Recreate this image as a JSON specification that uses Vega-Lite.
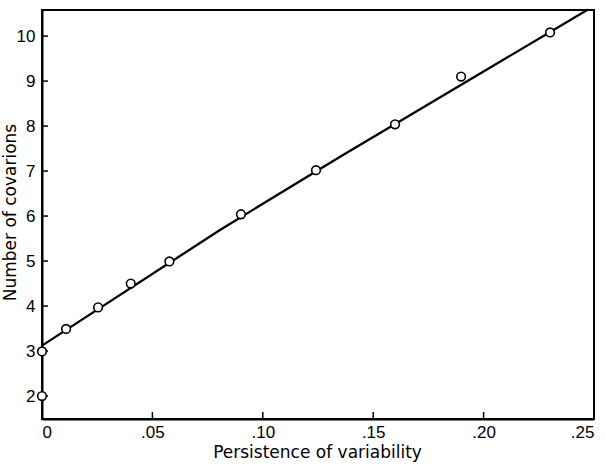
{
  "$schema": "https://vega.github.io/schema/vega-lite/v6.json",
  "width": 552,
  "height": 409,
  "autosize": "none",
  "padding": {"left": 42, "top": 10, "right": 11, "bottom": 49},
  "background": "white",
  "config": {
    "view": {"stroke": "black", "strokeWidth": 2},
    "font": "DejaVu Sans",
    "axis": {
      "grid": false,
      "ticks": false,
      "tickSize": 0,
      "domainColor": "black",
      "domainWidth": 2,
      "labelColor": "black",
      "labelFont": "Liberation Sans",
      "labelFontSize": 17,
      "titleFont": "DejaVu Sans",
      "titleFontSize": 17,
      "titleFontWeight": "normal",
      "titleColor": "black"
    }
  },
  "datasets": {
    "pts": [
      {"x": 0, "y": 2},
      {"x": 0, "y": 2.99},
      {"x": 0.0109, "y": 3.49},
      {"x": 0.0254, "y": 3.97},
      {"x": 0.0402, "y": 4.5},
      {"x": 0.0577, "y": 4.99},
      {"x": 0.0901, "y": 6.04},
      {"x": 0.1241, "y": 7.02},
      {"x": 0.1599, "y": 8.04},
      {"x": 0.1898, "y": 9.1},
      {"x": 0.2301, "y": 10.08}
    ],
    "fit": [
      {"x": 0, "y": 3.12},
      {"x": 0.0806, "y": 5.69},
      {"x": 0.135, "y": 7.32},
      {"x": 0.2074, "y": 9.43},
      {"x": 0.2473, "y": 10.59}
    ],
    "xticks": [{"x": 0.05}, {"x": 0.1}, {"x": 0.15}, {"x": 0.2}],
    "yticks": [{"y": 2}, {"y": 3}, {"y": 4}, {"y": 5}, {"y": 6}, {"y": 7}, {"y": 8}, {"y": 9}, {"y": 10}]
  },
  "encoding": {
    "x": {
      "type": "quantitative",
      "scale": {"domain": [0, 0.25], "nice": false, "zero": false},
      "axis": {
        "title": "Persistence of variability",
        "values": [0, 0.05, 0.1, 0.15, 0.2, 0.25],
        "labelExpr": "datum.value == 0 ? '0' : replace(format(datum.value, '.2f'), '0.', '.')",
        "labelBaseline": "alphabetic",
        "labelPadding": 18,
        "titleBaseline": "alphabetic",
        "titleAlign": "center",
        "titleX": 275,
        "titleY": 38
      }
    },
    "y": {
      "type": "quantitative",
      "scale": {"domain": [1.489, 10.58], "nice": false, "zero": false},
      "axis": {
        "title": "Number of covarions",
        "values": [2, 3, 4, 5, 6, 7, 8, 9, 10],
        "labelPadding": 7,
        "titleAngle": -90,
        "titleBaseline": "alphabetic",
        "titleAlign": "center",
        "titleX": -27,
        "titleY": 202
      }
    }
  },
  "layer": [
    {
      "data": {"name": "xticks"},
      "mark": {"type": "tick", "orient": "vertical", "color": "black", "thickness": 1.5, "size": 14, "opacity": 1, "clip": true},
      "encoding": {
        "x": {"field": "x", "type": "quantitative"},
        "y": {"datum": 1.489}
      }
    },
    {
      "data": {"name": "yticks"},
      "mark": {"type": "tick", "orient": "horizontal", "color": "black", "thickness": 1.5, "size": 12, "opacity": 1, "clip": true},
      "encoding": {
        "y": {"field": "y", "type": "quantitative"},
        "x": {"datum": 0}
      }
    },
    {
      "data": {"name": "fit"},
      "mark": {"type": "line", "color": "black", "strokeWidth": 2.3},
      "encoding": {
        "x": {"field": "x", "type": "quantitative"},
        "y": {"field": "y", "type": "quantitative"}
      }
    },
    {
      "data": {"name": "pts"},
      "mark": {"type": "point", "shape": "circle", "filled": false, "fill": "white", "fillOpacity": 1, "stroke": "black", "strokeWidth": 1.6, "size": 75, "opacity": 1, "clip": false},
      "encoding": {
        "x": {"field": "x", "type": "quantitative"},
        "y": {"field": "y", "type": "quantitative"}
      }
    }
  ]
}
